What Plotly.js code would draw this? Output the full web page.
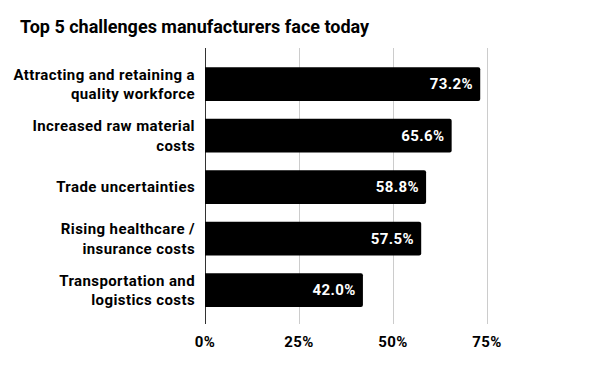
<!DOCTYPE html>
<html>
<head>
<meta charset="utf-8">
<script src="https://cdn.plot.ly/plotly-3.0.1.min.js"></script>
<style>
html,body{margin:0;padding:0;background:#fff;}
#chart{width:600px;height:371px;}
.ytick text, .xtick text, .bartext { letter-spacing: 0.4px; }
</style>
</head>
<body>
<div id="chart"></div>
<script>
var categories = [
  "Attracting and retaining a<br>quality workforce",
  "Increased raw material<br>costs",
  "Trade uncertainties",
  "Rising healthcare /<br>insurance costs",
  "Transportation and<br>logistics costs"
];
var values = [73.2, 65.6, 58.8, 57.5, 42.0];
var tickVals = [0, 25, 50, 75, 100];
var tickText = ["0%", "25%", "50%", "75%", ""];
var titleText = "Top 5 challenges manufacturers face today";

var FONT = "Roboto, 'Noto Sans', sans-serif";

var trace = {
  type: "bar",
  orientation: "h",
  y: categories,
  x: values,
  marker: {color: "#000000", cornerradius: 2},
  text: values.map(function(v){ return v.toFixed(1) + "%\u00a0"; }),
  textposition: "inside",
  insidetextanchor: "end",
  constraintext: "none",
  textangle: 0,
  insidetextfont: {family: FONT, size: 15, color: "#ffffff", weight: 700},
  hoverinfo: "none",
  cliponaxis: false
};

var layout = {
  width: 600,
  height: 371,
  margin: {l: 205, r: 19, t: 48, b: 47, pad: 0},
  paper_bgcolor: "#ffffff",
  plot_bgcolor: "#ffffff",
  showlegend: false,
  bargap: 0.345,
  font: {family: FONT, size: 15, color: "#000000", weight: 700},
  title: {
    text: titleText,
    font: {family: FONT, size: 18, color: "#000000", weight: 700},
    xref: "container", yref: "container",
    x: 20/600, xanchor: "left",
    y: 1 - 27/371, yanchor: "middle"
  },
  xaxis: {
    range: [0, 100],
    tickvals: tickVals,
    ticktext: tickText,
    showgrid: true,
    gridcolor: "#cccccc",
    gridwidth: 1,
    zeroline: true,
    zerolinecolor: "#333333",
    zerolinewidth: 1,
    showline: false,
    ticks: "",
    ticklabelstandoff: 7,
    tickfont: {family: FONT, size: 15, color: "#000000", weight: 700},
    fixedrange: true
  },
  yaxis: {
    type: "category",
    range: [4.66, -0.7],
    showgrid: false,
    zeroline: false,
    showline: false,
    ticks: "",
    ticklabelstandoff: 9,
    tickfont: {family: FONT, size: 15, color: "#000000", weight: 700},
    fixedrange: true
  }
};

Plotly.newPlot("chart", [trace], layout, {staticPlot: true, displayModeBar: false});
</script>
</body>
</html>
